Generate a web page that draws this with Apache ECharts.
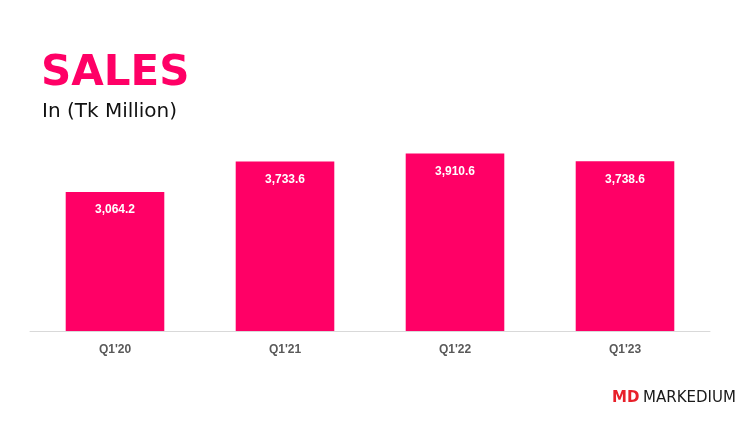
<!DOCTYPE html>
<html><head><meta charset="utf-8">
<script src="https://cdn.jsdelivr.net/npm/echarts@6/dist/echarts.min.js"></script>
<style>html,body{margin:0;padding:0;background:#fff}#c{width:750px;height:430px}</style>
</head><body><div id="c"></div>
<script>
var categories = ["Q1'20", "Q1'21", "Q1'22", "Q1'23"];
var sales = [3064.2, 3733.6, 3910.6, 3738.6];

var chart = echarts.init(document.getElementById('c'));
chart.setOption({
  animation: false,
  backgroundColor: '#ffffff',
  grid: { left: 30, right: 40, top: 104, bottom: 99 },
  graphic: [
    { type: 'text', left: 41, top: 53, style: { text: 'SALES', font: 'bold 42px "DejaVu Sans"', fill: '#ff0066' } },
    { type: 'text', left: 42, top: 102, style: { text: 'In (Tk Million)', font: '20px "DejaVu Sans"', fill: '#111111' } },
    { type: 'text', left: 612, top: 391, style: { text: 'MD', font: 'bold 15px "DejaVu Sans"', fill: '#e8202a' } },
    { type: 'text', left: 643, top: 391, style: { text: 'MARKEDIUM', font: '15px "DejaVu Sans"', fill: '#1a1a1a' } }
  ],
  xAxis: {
    type: 'category', data: categories,
    axisLine: { lineStyle: { color: '#d9d9d9', width: 1 } },
    axisTick: { show: false },
    axisLabel: { color: '#595959', fontWeight: 'bold', fontSize: 12, fontFamily: 'Liberation Sans', margin: 13 }
  },
  yAxis: { type: 'value', min: 0, max: 5000, show: false, splitLine: { show: false } },
  series: [{
    type: 'bar', data: sales, barWidth: '58%',
    itemStyle: { color: '#ff0066' },
    label: {
      show: true, position: 'insideTop', distance: 12,
      color: '#ffffff', fontWeight: 'bold', fontSize: 12, fontFamily: 'Liberation Sans',
      formatter: function (p) { return p.value.toLocaleString('en-US', { minimumFractionDigits: 1, maximumFractionDigits: 1 }); }
    }
  }]
});
</script></body></html>
